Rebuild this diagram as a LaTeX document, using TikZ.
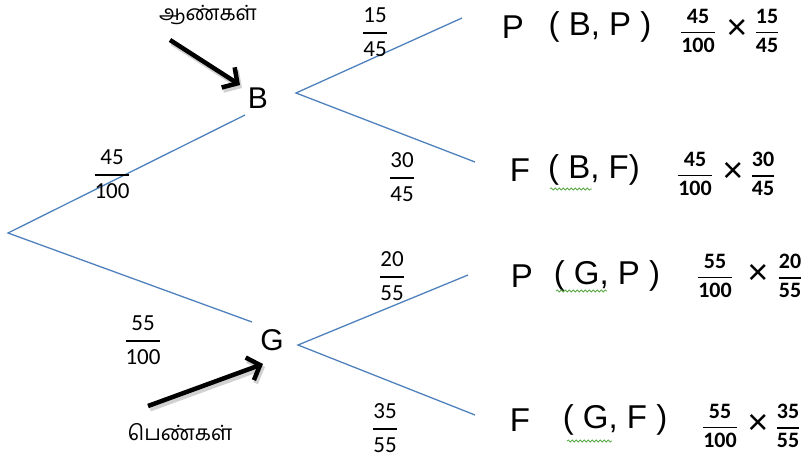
\documentclass[tikz,border=0pt]{standalone}
\usepackage{amsmath}
\usepackage{fontspec}
\setmainfont{Liberation Sans}
\newfontfamily\fracfont{Carlito}
\newfontfamily\tamilfont[Script=Tamil]{Hind Madurai}
\usetikzlibrary{arrows.meta,decorations.pathmorphing}
\definecolor{treeblue}{RGB}{79,129,189}
\definecolor{spellgreen}{RGB}{90,170,70}
\newcommand{\fr}[2]{$\genfrac{}{}{1.5pt}{0}{\text{#1}}{\text{#2}}$}
\tikzset{
  branch/.style={treeblue, line width=1.3pt},
  vertex/.style={font=\fontsize{30}{34}\selectfont, inner sep=0pt},
  treefrac/.style={font=\fracfont\fontsize{23}{27}\selectfont, inner sep=0pt},
  prodfrac/.style={font=\fracfont\bfseries\fontsize{22}{26}\selectfont, inner sep=0pt},
  letter/.style={font=\fontsize{33}{38}\selectfont, inner sep=0pt},
  timessign/.style={font=\fontsize{36}{40}\selectfont, inner sep=0pt},
  tamiltext/.style={font=\tamilfont\fontsize{21}{25}\selectfont, inner sep=0pt},
  bigarrow/.style={line width=4.5pt, -{Straight Barb[length=11pt,width=24pt]}},
  arrowshadow/.style={line width=5pt, black!30, opacity=0.6, -{Straight Barb[length=11pt,width=24pt]}},
  squiggle/.style={spellgreen, line width=0.8pt, decorate, decoration={snake, amplitude=1pt, segment length=4pt}}
}
\begin{document}
\begin{tikzpicture}[x=1pt,y=-1pt]
\useasboundingbox (0,0) rectangle (804,461);
% tree vertices
\coordinate (root) at (8,233);
\coordinate (bIn) at (245,115);
\coordinate (gIn) at (252,322);
\coordinate (bOut) at (296,93);
\coordinate (gOut) at (298,345);
\coordinate (leafBP) at (462,18);
\coordinate (leafBF) at (475,162);
\coordinate (leafGP) at (468,275);
\coordinate (leafGF) at (475,415);
\draw[branch] (bIn) -- (root) -- (gIn);
\draw[branch] (leafBP) -- (bOut) -- (leafBF);
\draw[branch] (leafGP) -- (gOut) -- (leafGF);
% vertex labels
\node[vertex] (B) at (258,98) {B};
\node[vertex] (G) at (272,340) {G};
% tree fractions
\node[treefrac] (f1) at (112,174) {\fr{45}{100}};
\node[treefrac] (f2) at (143,340) {\fr{55}{100}};
\node[treefrac] (f3) at (375,32) {\fr{15}{45}};
\node[treefrac] (f4) at (402,177) {\fr{30}{45}};
\node[treefrac] (f5) at (392,276) {\fr{20}{55}};
\node[treefrac] (f6) at (385,428) {\fr{35}{55}};
% Tamil labels and arrows
\node[tamiltext] (boys) at (208,15) {ஆண்கள்};
\node[tamiltext] (girls) at (180,432) {பெண்கள்};
\coordinate (a1s) at (170,40);
\coordinate (a1e) at (240,85);
\coordinate (a2s) at (148,406);
\coordinate (a2e) at (263,364);
\draw[arrowshadow] ([shift={(2,3)}]a1s) -- ([shift={(2,3)}]a1e);
\draw[arrowshadow] ([shift={(2,3)}]a2s) -- ([shift={(2,3)}]a2e);
\draw[bigarrow] (a1s) -- (a1e);
\draw[bigarrow] (a2s) -- (a2e);
% row 1
\node[letter] (r1a) at (513,27) {P};
\node[letter] (r1b) at (600,27) {( B, P )};
\node[prodfrac] (r1c) at (698,31) {\fr{45}{100}};
\node[timessign] (r1x) at (737,29) {×};
\node[prodfrac] (r1d) at (767,31) {\fr{15}{45}};
% row 2
\node[letter] (r2a) at (520,170) {F};
\node[letter] (r2b) at (594,170) {( B, F)};
\node[prodfrac] (r2c) at (695,174) {\fr{45}{100}};
\node[timessign] (r2x) at (733,172) {×};
\node[prodfrac] (r2d) at (763,174) {\fr{30}{45}};
\draw[squiggle] (550,189) -- (592,189);
% row 3
\node[letter] (r3a) at (522,276) {P};
\node[letter] (r3b) at (607,276) {( G, P )};
\node[prodfrac] (r3c) at (715,276) {\fr{55}{100}};
\node[timessign] (r3x) at (758,274) {×};
\node[prodfrac] (r3d) at (790,276) {\fr{20}{55}};
\draw[squiggle] (556,291) -- (607,291);
% row 4
\node[letter] (r4a) at (520,420) {F};
\node[letter] (r4b) at (615,420) {( G, F )};
\node[prodfrac] (r4c) at (720,426) {\fr{55}{100}};
\node[timessign] (r4x) at (758,424) {×};
\node[prodfrac] (r4d) at (788,426) {\fr{35}{55}};
\draw[squiggle] (567,441) -- (612,441);
\end{tikzpicture}
\end{document}
